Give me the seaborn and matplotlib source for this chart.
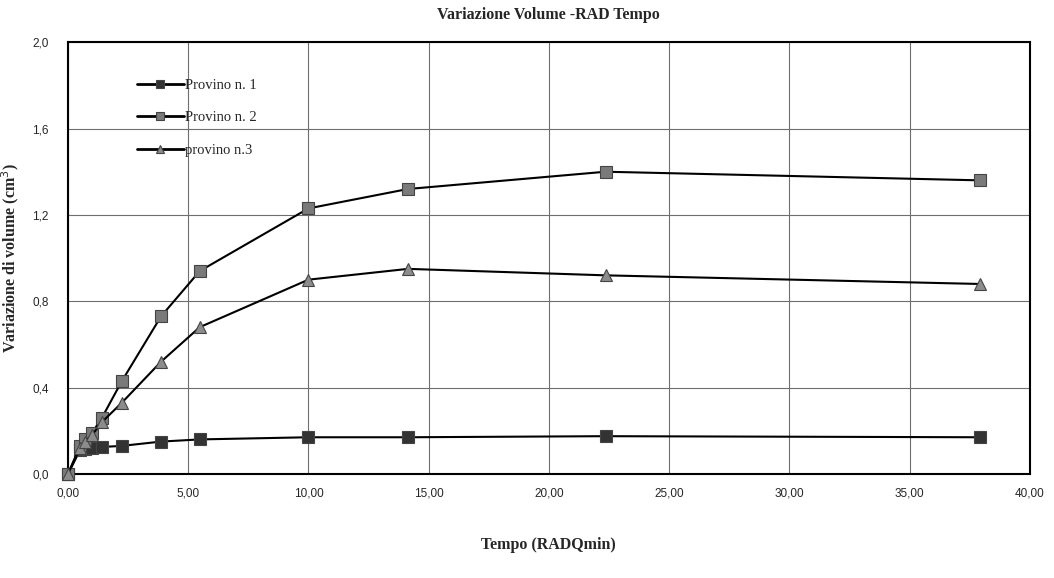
import numpy as np
import pandas as pd
import matplotlib
matplotlib.use("Agg")
import matplotlib.pyplot as plt
import seaborn as sns
from matplotlib.ticker import FuncFormatter, MultipleLocator

# Square root of elapsed time (minutes)
tempo = [0.00, 0.50, 0.71, 1.00, 1.41, 2.24, 3.87, 5.48, 10.00, 14.14, 22.36, 37.95]

provino_1 = [0.00, 0.11, 0.115, 0.12, 0.125, 0.13, 0.15, 0.16, 0.17, 0.17, 0.175, 0.17]
provino_2 = [0.00, 0.13, 0.16, 0.19, 0.26, 0.43, 0.73, 0.94, 1.23, 1.32, 1.40, 1.36]
provino_3 = [0.00, 0.12, 0.15, 0.18, 0.24, 0.33, 0.52, 0.68, 0.90, 0.95, 0.92, 0.88]

series_names = ["Provino n. 1", "Provino n. 2", "provino n.3"]

df = pd.DataFrame({
    "tempo": tempo * 3,
    "volume": provino_1 + provino_2 + provino_3,
    "serie": sum([[n] * len(tempo) for n in series_names], []),
})

sns.set_theme(style="white")
plt.rcParams["font.family"] = ["Liberation Sans", "DejaVu Sans"]

fig = plt.figure(figsize=(10.54, 5.78), dpi=100)
ax = fig.add_axes([0.0645, 0.18, 0.9125, 0.747])

styles = {
    "Provino n. 1": dict(marker="s", mfc="#333333", ms=9),
    "Provino n. 2": dict(marker="s", mfc="#7a7a7a", ms=9),
    "provino n.3": dict(marker="^", mfc="#8c8c8c", ms=9),
}

for name in series_names:
    sub = df[df["serie"] == name]
    st = styles[name]
    sns.lineplot(data=sub, x="tempo", y="volume", ax=ax, color="black",
                 linewidth=1.5, marker=st["marker"], markersize=st["ms"],
                 markerfacecolor=st["mfc"], markeredgecolor="#444444",
                 markeredgewidth=0.8, label=name, sort=False, clip_on=False,
                 zorder=3)

ax.set_xlim(0, 40)
ax.set_ylim(0, 2.0)
ax.xaxis.set_major_locator(MultipleLocator(5))
ax.yaxis.set_major_locator(MultipleLocator(0.4))
ax.xaxis.set_major_formatter(FuncFormatter(lambda v, p: f"{v:.2f}".replace(".", ",")))
ax.yaxis.set_major_formatter(FuncFormatter(lambda v, p: f"{v:.1f}".replace(".", ",")))
ax.grid(True, color="#6e6e6e", linewidth=0.8)
ax.set_axisbelow(True)
for s in ax.spines.values():
    s.set_color("black")
    s.set_linewidth(1.5)
    s.set_zorder(2.5)

ax.tick_params(axis="both", labelsize=8.5, length=0, pad=10)
ax.tick_params(axis="y", pad=14)

serif = ["Liberation Serif", "DejaVu Serif"]
ax.set_title("Variazione Volume -RAD Tempo", family=serif, fontweight="bold",
             fontsize=11.5, pad=17)
ax.set_xlabel("Tempo (RADQmin)", family=serif, fontweight="bold", fontsize=11.5,
              labelpad=27)
ax.set_ylabel("Variazione di volume (cm$^3$)", family=serif, fontweight="bold",
              fontsize=11.5, labelpad=8)

leg = ax.legend(loc="upper left", bbox_to_anchor=(0.058, 0.945), frameon=False,
                prop={"family": serif, "size": 10.5}, labelspacing=1.3,
                handlelength=3.2, handletextpad=0.1, markerscale=0.6)
for line in leg.get_lines():
    line.set_linewidth(2.0)

fig.savefig("out.png", dpi=100, facecolor="white")
